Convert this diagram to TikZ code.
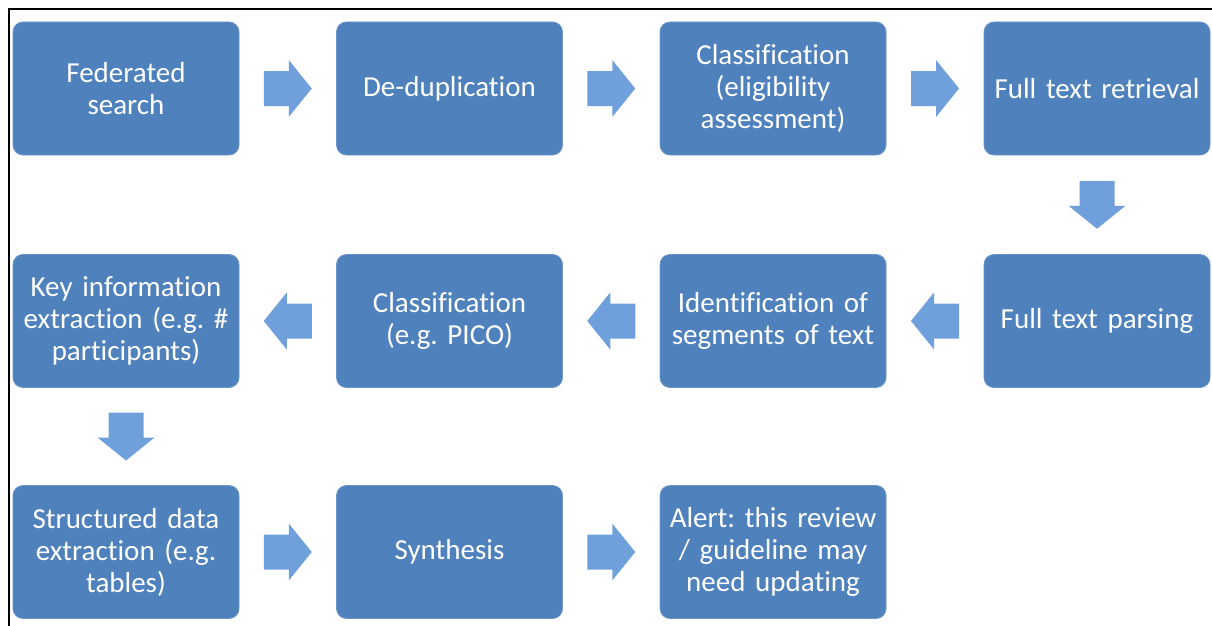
\documentclass[tikz,border=0pt]{standalone}
\usepackage{fontspec}
\setmainfont[Ligatures={NoCommon}]{Carlito}
\frenchspacing
\usetikzlibrary{calc}
\definecolor{boxfill}{HTML}{4F81BD}
\definecolor{boxedge}{HTML}{6A94C9}
\definecolor{arrowfill}{HTML}{6FA0DC}
% keeps f and i as separate glyphs
\newcommand{\nolig}{\kern0pt\relax}
% step label font with slightly tighter word spaces
\newcommand{\boxfont}{\fontsize{29}{32}\selectfont\fontdimen2\font=5.2pt\relax}
\tikzset{
  stepbox/.style={rectangle, rounded corners=10pt, fill=boxfill, draw=boxedge,
    line width=0.8pt, minimum width=226pt, minimum height=133pt,
    text width=218pt, align=center, text=white, inner sep=0pt,
    font=\boxfont},
  pics/blockarrow/.style={code={
    \fill[arrowfill] (-24,-17.5) -- (1,-17.5) -- (1,-28.5) -- (24,0)
      -- (1,28.5) -- (1,17.5) -- (-24,17.5) -- cycle;}}
}
\begin{document}
\begin{tikzpicture}[x=1pt,y=-1pt]
\useasboundingbox (0,0) rectangle (1212,626);
% frame on the top and left edges
\draw[line width=2pt, black] (9,626) -- (9,9) -- (1212,9);

% row 1
\node[stepbox] (fed)  at (126,88.5)   {Federated\\search};
\node[stepbox] (dedup) at (449.5,88.5) {De-duplication};
\node[stepbox] (elig) at (773,88.5)   {Classif\nolig ication\\(eligibility\\assessment)};
\node[stepbox] (retr) at (1097,88.5)  {Full text retrieval};
% row 2
\node[stepbox] (pars) at (1097,321)   {Full text parsing};
\node[stepbox] (segm) at (773,321)    {Identif\nolig ication of\\segments of text};
\node[stepbox] (pico) at (449.5,321)  {Classif\nolig ication\\(e.g. PICO)};
\node[stepbox] (keyi) at (126,321)    {Key information\\extraction (e.g. \#\\participants)};
% row 3
\node[stepbox] (strd) at (126,552)    {Structured data\\extraction (e.g.\\tables)};
\node[stepbox] (synt) at (449.5,552)  {Synthesis};
\node[stepbox] (alrt) at (773,552)    {Alert: this review\\/ guideline may\\need updating};

% block arrows between the steps
\pic at ($(fed.east)!0.5!(dedup.west)$) {blockarrow};
\pic at ($(dedup.east)!0.5!(elig.west)$) {blockarrow};
\pic at ($(elig.east)!0.5!(retr.west)$) {blockarrow};
\pic[rotate=-90] at ($(retr.south)!0.5!(pars.north)$) {blockarrow};
\pic[rotate=180] at ($(pars.west)!0.5!(segm.east)$) {blockarrow};
\pic[rotate=180] at ($(segm.west)!0.5!(pico.east)$) {blockarrow};
\pic[rotate=180] at ($(pico.west)!0.5!(keyi.east)$) {blockarrow};
\pic[rotate=-90] at ($(keyi.south)!0.5!(strd.north)$) {blockarrow};
\pic at ($(strd.east)!0.5!(synt.west)$) {blockarrow};
\pic at ($(synt.east)!0.5!(alrt.west)$) {blockarrow};
\end{tikzpicture}
\end{document}
